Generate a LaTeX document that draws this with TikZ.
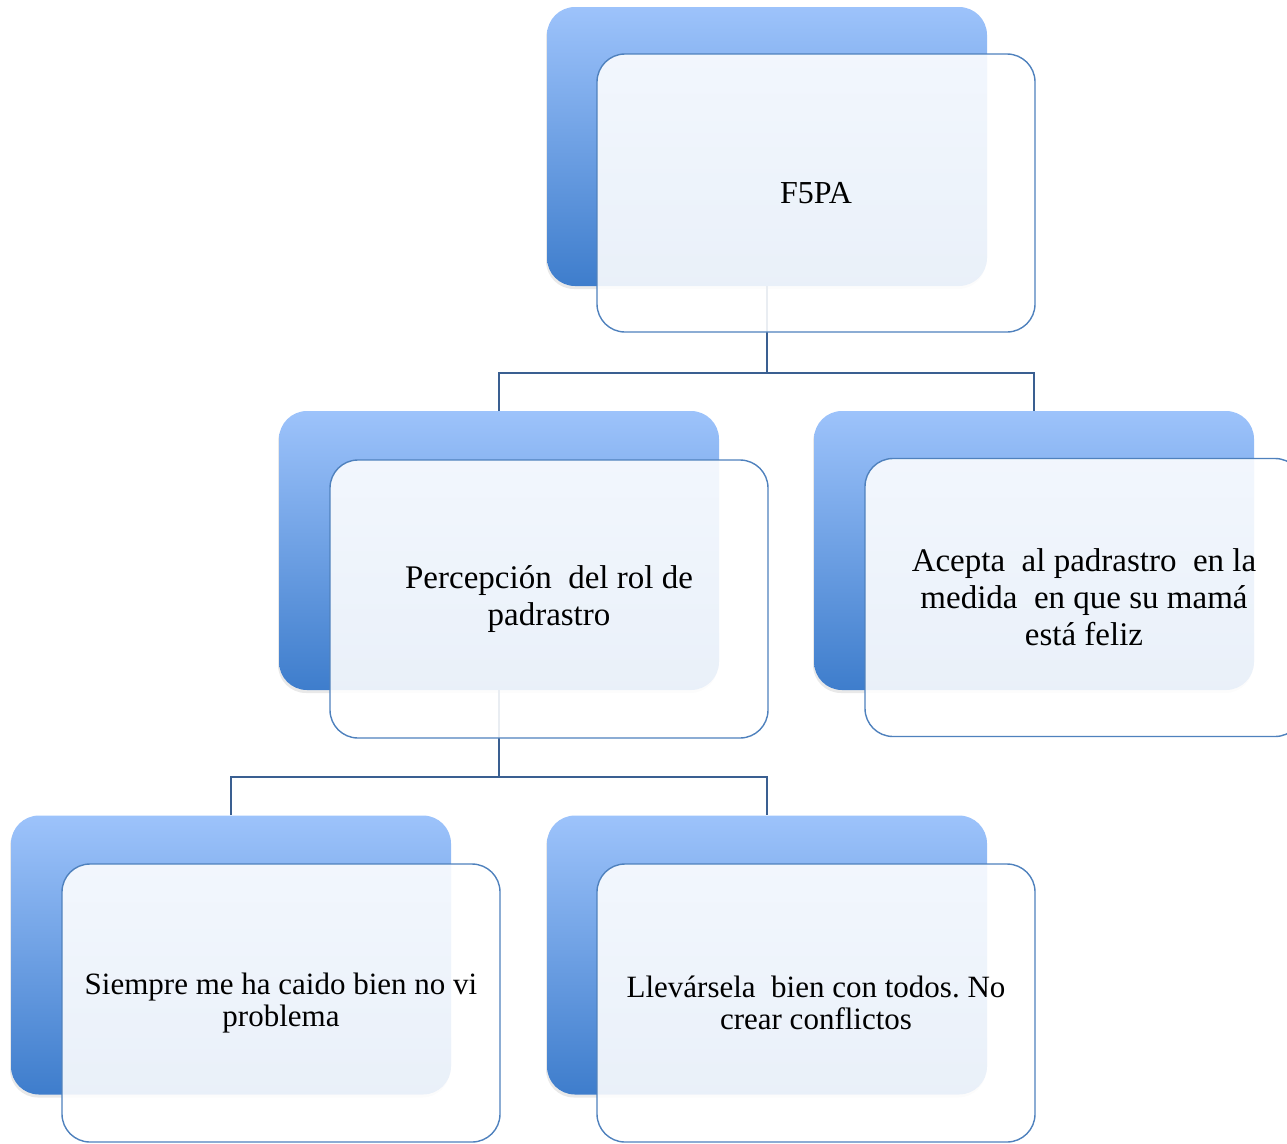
\documentclass[tikz,border=0pt]{standalone}
\usepackage{fontspec}
\setmainfont{Liberation Serif}
\usetikzlibrary{shadows}
\frenchspacing

\begin{document}
\begin{tikzpicture}[x=1pt,y=-1pt,
  back/.style={rounded corners=28, minimum width=440, minimum height=279, inner sep=0,
    top color={rgb, 255:red, 157; green, 195; blue, 251 }, bottom color={rgb, 255:red, 62; green, 125; blue, 204 },
    drop shadow={shadow xshift=-1pt, shadow yshift=-3pt, opacity=0.12, fill=black!70}},
  front/.style={draw={rgb, 255:red, 79; green, 129; blue, 189 }, line width=1.4, fill=white, fill opacity=0.89,
    text opacity=1, rounded corners=28, minimum width=438, minimum height=278, inner sep=0, align=center},
  conn/.style={draw={rgb, 255:red, 58; green, 95; blue, 145 }, line width=1.6}]
\useasboundingbox (0,0) rectangle (1287,1143);

%Back Rects
\node[back] (topB) at (767,146.5) {};
\node[back] (leftB) at (499,550.5) {};
\node[back] (rightB) at (1034,550.5) {};
\node[back] (llB) at (231,955) {};
\node[back] (lrB) at (767,955) {};

%Connectors
\draw[conn] (topB.south) -- ++(0,87) -| (leftB.north);
\draw[conn] (topB.south) -- ++(0,87) -| (rightB.north);
\draw[conn] (leftB.south) -- ++(0,87) -| (llB.north);
\draw[conn] (leftB.south) -- ++(0,87) -| (lrB.north);

%Front Boxes
\node[front, font=\fontsize{32}{37}\selectfont] (top) at (816,193) {F5PA};
\node[front, font=\fontsize{33}{37}\selectfont] (left) at (549,599) {Percepción\ \ del rol de\\padrastro};
\node[front, font=\fontsize{33}{37}\selectfont] (right) at (1084,597.5) {Acepta\ \ al padrastro\ \ en la\\medida\ \ en que su mamá\\está feliz};
\node[front, font=\fontsize{31}{32}\selectfont] (ll) at (281,1003) {Siempre me ha caido bien no vi\\problema};
\node[front, font=\fontsize{31}{32}\selectfont] (lr) at (816,1003) {Llevársela\ \ bien con todos. No\\crear conflictos};

\end{tikzpicture}
\end{document}
